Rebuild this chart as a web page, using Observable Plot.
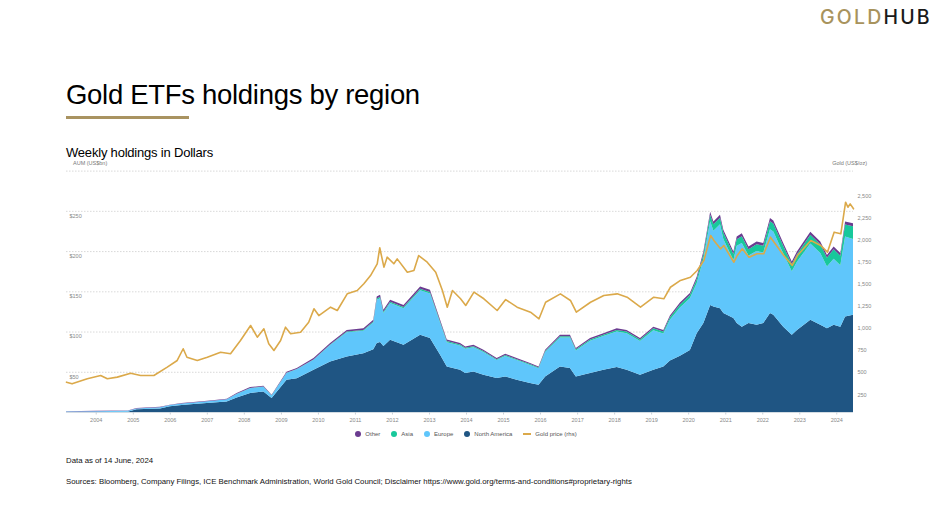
<!DOCTYPE html>
<html>
<head>
<meta charset="utf-8">
<script src="https://cdn.jsdelivr.net/npm/d3@7"></script>
<script src="https://cdn.jsdelivr.net/npm/@observablehq/plot@0.6"></script>
<style>
  html, body { margin: 0; padding: 0; background: #fff; }
  #page { position: relative; width: 943px; height: 531px; background: #fff; font-family: "Liberation Sans", Arial, Helvetica, sans-serif; overflow: hidden; }
  .abs { position: absolute; white-space: nowrap; }
  #logo { left: 820px; top: 8px; font-family: Inter, "Noto Sans", sans-serif; font-size: 19.5px; line-height: 19.5px; font-weight: 500; letter-spacing: 2.2px; }
  #logo .g { color: #a8935d; }
  #logo .h { color: #1a1a1a; }
  #title { left: 66px; top: 81px; font-size: 27.5px; line-height: 27.5px; color: #000; letter-spacing: -0.3px; }
  #rule { left: 66px; top: 115.5px; width: 123px; height: 3px; background: #a99361; }
  #subtitle { left: 66px; top: 145.5px; font-size: 13px; line-height: 13px; color: #000; letter-spacing: -0.2px; }
  #aum { left: 73px; top: 160px; font-size: 5.5px; line-height: 6px; color: #777; }
  #goldlab { left: 820px; width: 47px; text-align: right; top: 160px; font-size: 5.5px; line-height: 6px; color: #777; }
  #chart { left: 0; top: 155px; }
  #legend { left: 0; width: 943px; top: 431px; display: flex; justify-content: center; font-size: 6px; line-height: 6px; color: #555; }
  #legend .item { display: flex; align-items: center; margin-right: 11px; }
  #legend .dot { width: 6px; height: 6px; border-radius: 50%; margin-right: 4px; }
  #legend .ln { width: 8px; height: 1.6px; margin-right: 4px; }
  #asof { left: 66px; top: 456.5px; font-size: 7.8px; line-height: 7.8px; color: #111; }
  #sources { left: 66px; top: 477.5px; font-size: 7.8px; line-height: 7.8px; color: #111; }
</style>
</head>
<body>
<div id="page">
  <div id="logo" class="abs"><span class="g">GOLD</span><span class="h">HUB</span></div>
  <div id="title" class="abs">Gold ETFs holdings by region</div>
  <div id="rule" class="abs"></div>
  <div id="chart" class="abs"></div>
  <div id="subtitle" class="abs">Weekly holdings in Dollars</div>
  <div id="aum" class="abs">AUM (US$bn)</div>
  <div id="goldlab" class="abs">Gold (US$/oz)</div>
  <div id="legend" class="abs"></div>
  <div id="asof" class="abs">Data as of 14 June, 2024</div>
  <div id="sources" class="abs">Sources: Bloomberg, Company Filings, ICE Benchmark Administration, World Gold Council; Disclaimer https://www.gold.org/terms-and-conditions#proprietary-rights</div>
</div>
<script>
// ---- Data (US$bn) ----
const dates = ["2003-03-14","2004-01-01","2004-11-12","2005-02-06","2005-09-26","2006-01-01","2006-04-27","2006-08-22","2007-02-01","2007-07-16","2007-10-22","2008-03-03","2008-07-12","2008-10-01","2009-02-25","2009-06-06","2009-11-18","2010-05-01","2010-10-12","2011-03-25","2011-07-01","2011-08-04","2011-09-06","2011-10-09","2011-12-14","2012-04-24","2012-10-05","2013-01-10","2013-04-20","2013-06-25","2013-11-03","2013-12-24","2014-03-15","2014-06-21","2014-10-30","2015-01-22","2015-05-15","2015-09-24","2015-12-17","2016-02-20","2016-07-15","2016-10-22","2016-12-19","2017-05-08","2017-09-16","2018-01-26","2018-05-04","2018-09-13","2019-01-22","2019-05-01","2019-07-05","2019-10-12","2020-01-18","2020-03-25","2020-05-30","2020-08-05","2020-09-06","2020-11-10","2020-12-13","2021-03-22","2021-04-24","2021-06-13","2021-08-18","2021-11-06","2022-01-11","2022-03-18","2022-04-20","2022-07-27","2022-10-19","2022-12-09","2023-04-20","2023-07-27","2023-10-01","2023-12-06","2024-02-10","2024-03-28","2024-06-14"];
const northAmerica = [0, 0, 0.3, 3.3, 4.5, 7, 8.7, 9.9, 11.5, 13.2, 18.1, 23.6, 25.6, 17.5, 40, 42, 52.5, 62.9, 69, 73, 78, 85.7, 87, 82, 89.8, 83.6, 96, 92, 71, 56.6, 52.5, 48.4, 50.4, 46.3, 42.2, 44.2, 40, 36, 33.9, 44.2, 56.6, 54.7, 44.2, 48.4, 52.5, 55.9, 52.5, 46.3, 52.5, 56.6, 64, 70, 77, 98, 110.6, 133, 131, 129, 123, 116.8, 110.6, 106, 110.6, 108.4, 110.6, 123, 121, 106, 96, 102, 114.7, 108.4, 104, 108.4, 106, 118.8, 121];
const europe = [0.7, 1.0, 1.2, 1.2, 1.4, 1.6, 1.9, 1.9, 2.1, 2.5, 4.4, 6.0, 5.7, 3.0, 8.5, 11.0, 12.5, 20.5, 30.2, 28.0, 33.3, 53.8, 54.5, 41.1, 45.6, 45.3, 55.3, 55.3, 39.8, 30.2, 30.0, 30.1, 30.2, 28.3, 22.3, 25.5, 24.5, 22.5, 20.5, 30.4, 35.9, 37.8, 32.3, 40.2, 41.8, 44.1, 45.5, 41.9, 49.1, 41.0, 50.7, 60.0, 64.3, 62.0, 79.6, 104.2, 94.2, 104.3, 92.0, 72.0, 96.0, 104.0, 83.8, 91.7, 87.5, 104.2, 103.2, 91.1, 78.9, 84.7, 94.7, 89.2, 76.8, 82.0, 76.3, 99.2, 93.9];
const asia = [0, 0, 0, 0, 0, 0, 0, 0, 0.1, 0.1, 0.2, 0.3, 0.3, 0.2, 0.3, 0.3, 0.4, 0.5, 0.8, 1.0, 1.2, 1.5, 1.6, 1.5, 1.6, 1.6, 1.9, 1.9, 1.6, 1.3, 1.3, 1.2, 1.2, 1.1, 1.0, 1.1, 1.0, 1.0, 0.9, 1.2, 1.6, 1.6, 1.4, 1.6, 1.8, 2.0, 2.0, 2.0, 2.4, 2.4, 3.0, 3.5, 4, 5, 6, 8, 8, 8, 8, 7.5, 8, 8.5, 8, 8.5, 8.5, 10, 10, 9.5, 9, 9.5, 11, 11, 11, 12, 12, 15, 16];
const other = [0.3, 0.4, 0.4, 0.4, 0.5, 0.5, 0.6, 0.6, 0.7, 0.7, 0.9, 1.1, 1.1, 0.8, 1.2, 1.4, 1.6, 1.8, 2.0, 2.0, 2.2, 2.6, 2.6, 2.4, 2.5, 2.5, 2.8, 2.8, 2.3, 1.9, 1.9, 1.8, 1.8, 1.7, 1.5, 1.6, 1.5, 1.4, 1.3, 1.6, 1.9, 1.9, 1.6, 1.8, 1.9, 2.0, 2.0, 1.8, 2.0, 2.0, 2.3, 2.5, 2.7, 3, 3.3, 3.8, 3.6, 3.7, 3.5, 3.2, 3.4, 3.5, 3.3, 3.4, 3.4, 3.8, 3.8, 3.4, 3.1, 3.3, 3.6, 3.4, 3.2, 3.3, 3.2, 3.8, 3.8];

// Gold price (US$/oz, rhs)
const goldDates = ["2003-03-14","2003-05-08","2003-10-05","2004-02-14","2004-04-20","2004-07-27","2004-12-06","2005-03-14","2005-07-23","2005-12-02","2006-03-10","2006-05-08","2006-06-14","2006-09-24","2007-01-01","2007-05-12","2007-08-18","2007-11-24","2008-03-03","2008-05-08","2008-07-12","2008-08-29","2008-10-19","2008-12-24","2009-02-10","2009-04-02","2009-07-09","2009-09-27","2009-11-18","2010-01-05","2010-05-01","2010-07-06","2010-10-12","2011-01-19","2011-03-25","2011-05-30","2011-08-04","2011-08-29","2011-10-09","2011-11-10","2012-01-15","2012-02-17","2012-05-27","2012-07-31","2012-09-16","2012-12-09","2013-03-03","2013-05-08","2013-06-25","2013-08-15","2013-11-03","2013-12-24","2014-03-15","2014-06-21","2014-10-30","2015-01-22","2015-05-15","2015-09-24","2015-12-17","2016-02-20","2016-07-15","2016-10-22","2016-12-19","2017-05-08","2017-09-16","2018-01-26","2018-05-04","2018-09-13","2019-01-22","2019-05-01","2019-07-05","2019-10-12","2020-01-18","2020-03-25","2020-05-30","2020-08-05","2020-09-06","2020-11-10","2020-12-13","2021-03-22","2021-04-24","2021-06-13","2021-08-18","2021-11-06","2022-01-11","2022-03-18","2022-07-27","2022-10-19","2022-12-09","2023-04-20","2023-07-27","2023-10-01","2023-12-06","2024-02-10","2024-03-28","2024-04-20","2024-05-12","2024-06-14"];
const goldPrice = [393, 374, 431, 469, 431, 450, 495, 469, 469, 563, 639, 772, 676, 639, 676, 733, 715, 866, 1036, 903, 998, 828, 752, 866, 1017, 942, 960, 1073, 1225, 1149, 1244, 1206, 1395, 1433, 1509, 1603, 1736, 1918, 1698, 1811, 1736, 1792, 1641, 1660, 1830, 1754, 1641, 1433, 1244, 1433, 1339, 1263, 1414, 1339, 1206, 1330, 1244, 1187, 1112, 1300, 1395, 1320, 1187, 1300, 1376, 1395, 1357, 1244, 1357, 1339, 1470, 1547, 1584, 1660, 1774, 2057, 2000, 1906, 1944, 1754, 1830, 1906, 1811, 1850, 1850, 2038, 1830, 1717, 1830, 2000, 1944, 1868, 2095, 2076, 2435, 2378, 2416, 2360];

const regions = ["North America", "Europe", "Asia", "Other"];   // stack order, bottom first
const regionColors = ["#1f5583", "#5fc6fb", "#18c89b", "#6b3c90"];
const leftTicks = [50, 100, 150, 200, 250];
const gridLines = [50, 100, 150, 200, 250, 300];
const goldTicks = [250, 500, 750, 1000, 1250, 1500, 1750, 2000, 2250, 2500];
const legendItems = [
  {label: "Other", color: "#6b3c90", kind: "dot"},
  {label: "Asia", color: "#18c89b", kind: "dot"},
  {label: "Europe", color: "#5fc6fb", kind: "dot"},
  {label: "North America", color: "#1f5583", kind: "dot"},
  {label: "Gold price (rhs)", color: "#dba94a", kind: "line"}
];

// ---- Build tables ----
const seriesByRegion = {"North America": northAmerica, "Europe": europe, "Asia": asia, "Other": other};
const holdings = [];
regions.forEach(r => {
  dates.forEach((d, i) => holdings.push({date: new Date(d), region: r, value: seriesByRegion[r][i]}));
});
const gold = goldDates.map((d, i) => ({date: new Date(d), price: goldPrice[i]}));

// right axis (gold) expressed in left-axis units
const goldToLeft = g => 0.10953 * g - 5.34;

const chart = Plot.plot({
  width: 943,
  height: 275,
  marginTop: 14,
  marginBottom: 18,
  marginLeft: 66,
  marginRight: 90,
  style: {fontFamily: "'Liberation Sans', Arial, sans-serif", fontSize: "5.5px", color: "#777", background: "transparent", overflow: "visible"},
  x: {type: "utc", domain: [new Date("2003-03-14"), new Date("2024-06-14")]},
  y: {domain: [0, 302], axis: null},
  color: {domain: regions, range: regionColors},
  marks: [
    Plot.ruleY(gridLines, {stroke: "#cfcfcf", strokeWidth: 0.8, strokeDasharray: "1.5,1.5"}),
    Plot.areaY(holdings, {x: "date", y: "value", z: "region", fill: "region", order: regions, curve: "linear"}),
    Plot.lineY(gold, {x: "date", y: d => goldToLeft(d.price), stroke: "#dba94a", strokeWidth: 1.6, curve: "linear"}),
    Plot.ruleY([0], {stroke: "#c8d3dc", strokeWidth: 0.8}),
    Plot.axisX({ticks: "year", tickFormat: "%Y", tickSize: 2.5, tickPadding: 3, stroke: "#c8d0d8", fill: "#888", fontSize: 5.5}),
    Plot.text(leftTicks, {y: d => d, text: d => "$" + d, frameAnchor: "left", dx: 3, dy: 4.5, textAnchor: "start", fill: "#888", fontSize: 5.5}),
    Plot.text(goldTicks, {y: d => goldToLeft(d), text: d => d3.format(",")(d), frameAnchor: "right", dx: 4, textAnchor: "start", fill: "#888", fontSize: 5.5})
  ]
});
document.getElementById("chart").appendChild(chart);

// ---- Legend ----
const legend = document.getElementById("legend");
legendItems.forEach(it => {
  const item = document.createElement("div");
  item.className = "item";
  const sw = document.createElement("div");
  sw.className = it.kind === "dot" ? "dot" : "ln";
  sw.style.background = it.color;
  const tx = document.createElement("span");
  tx.textContent = it.label;
  item.appendChild(sw);
  item.appendChild(tx);
  legend.appendChild(item);
});
</script>
</body>
</html>
